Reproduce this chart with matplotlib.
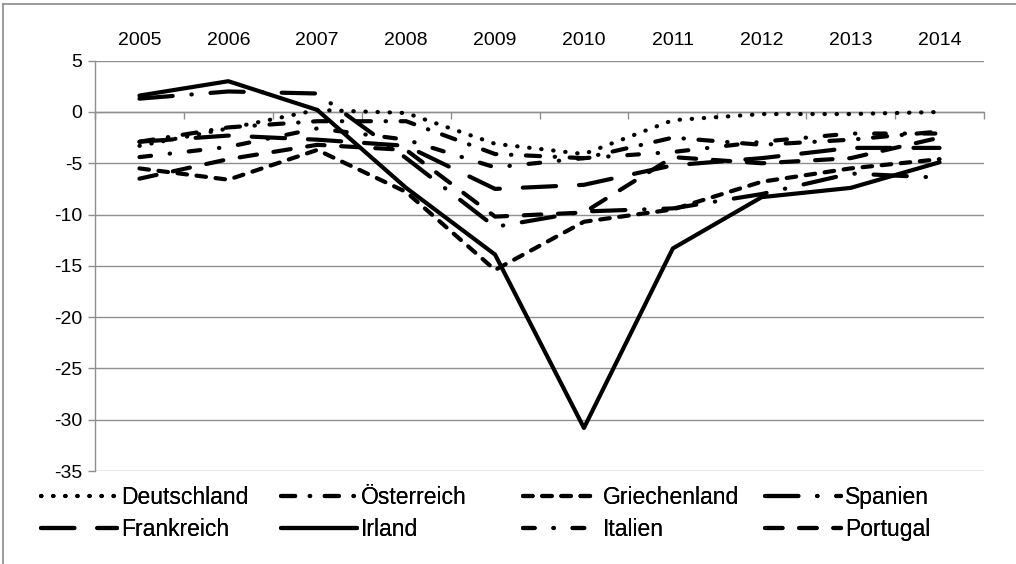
import matplotlib
matplotlib.use("Agg")
import matplotlib.pyplot as plt
from matplotlib.lines import Line2D
from matplotlib.ticker import FixedLocator

plt.rcParams['font.family'] = ['Liberation Sans', 'DejaVu Sans']
plt.rcParams['axes.unicode_minus'] = False

years = ["2005", "2006", "2007", "2008", "2009", "2010", "2011", "2012", "2013", "2014"]

deutschland = [-3.3, -1.6, 0.2, -0.1, -3.1, -4.1, -0.8, -0.2, -0.2, 0.0]
oesterreich = [-2.9, -1.5, -0.9, -0.9, -4.1, -4.5, -2.5, -3.2, -2.7, -1.9]
griechenland = [-5.5, -6.6, -3.7, -7.8, -15.4, -10.7, -9.5, -6.8, -5.5, -4.6]
spanien = [1.3, 2.0, 1.8, -4.5, -11.2, -9.7, -9.4, -8.0, -6.0, -6.4]
frankreich = [-2.9, -2.3, -2.7, -3.3, -7.5, -7.1, -5.2, -4.5, -3.5, -3.5]
irland = [1.6, 3.0, 0.2, -7.4, -13.9, -30.8, -13.3, -8.3, -7.4, -4.9]
italien = [-4.4, -3.4, -1.6, -2.7, -5.4, -4.5, -3.9, -2.9, -2.1, -2.1]
portugal = [-6.5, -4.6, -3.2, -3.7, -10.2, -9.8, -4.4, -5.0, -4.5, -2.5]

series = [
    ("Deutschland", deutschland, (0, (0.1, 2.8))),
    ("Österreich", oesterreich, (0, (3.4, 3.5, 0.1, 3.5))),
    ("Griechenland", griechenland, (0, (2.3, 2.3))),
    ("Spanien", spanien, (0, (8, 4.5, 0.1, 4.5))),
    ("Frankreich", frankreich, (0, (8, 5.5))),
    ("Irland", irland, "-"),
    ("Italien", italien, (0, (2.8, 4.5, 0.1, 4.5))),
    ("Portugal", portugal, (0, (4.2, 4.0))),
]

W, H = 1016, 564
fig = plt.figure(figsize=(W / 100, H / 100), dpi=100)
ax = fig.add_axes([95 / W, (H - 471) / H, (984 - 95) / W, (471 - 60.7) / H])

grid_c = "#8f8f8f"
x = list(range(len(years)))
handles = []
for name, vals, ls in series:
    ln, = ax.plot(x, vals, color="black", lw=3.0, linestyle=ls,
                  dash_capstyle="round", solid_capstyle="round",
                  dash_joinstyle="round", solid_joinstyle="round",
                  label=name, zorder=3)
    handles.append(ln)

ax.set_xlim(-0.5, len(years) - 0.5)
ax.set_ylim(-35, 5)
ax.set_yticks(range(-35, 6, 5))
ax.yaxis.grid(True, color=grid_c, lw=1.0)
ax.set_axisbelow(True)

for s in ["top", "right"]:
    ax.spines[s].set_visible(False)
ax.spines["left"].set_color(grid_c)
ax.spines["left"].set_linewidth(1.0)
ax.spines["bottom"].set_position(("data", 0))
ax.spines["bottom"].set_color(grid_c)
ax.spines["bottom"].set_linewidth(1.0)

ax.set_xticks(x)
ax.set_xticklabels(years)
ax.xaxis.set_minor_locator(FixedLocator([i - 0.5 for i in range(len(years) + 1)]))
ax.tick_params(axis="x", which="major", bottom=False, top=False,
               labelbottom=False, labeltop=True, labelsize=14, pad=5)
ax.tick_params(axis="x", which="minor", bottom=True, top=False,
               length=5, width=1.0, color=grid_c, direction="out")
ax.tick_params(axis="y", which="major", length=5, width=1.0, color=grid_c,
               direction="out", labelsize=14, pad=4)

# legend: four columns, two rows each
col_x = [41, 281, 523, 765]
for c in range(4):
    hs = [handles[c], handles[c + 4]]
    leg = fig.legend(handles=hs, labels=[h.get_label() for h in hs],
                     loc="upper left",
                     bbox_to_anchor=(col_x[c] / W, (H - 486) / H),
                     frameon=False, fontsize=16.5, handlelength=3.3,
                     handletextpad=0.18, labelspacing=0.4,
                     borderpad=0, borderaxespad=0)
    fig.add_artist(leg)

# chart-area border (left and top visible)
fig.add_artist(Line2D([3 / W, 3 / W], [0, (H - 4) / H], transform=fig.transFigure,
                      color="#8a8a8a", lw=1.2))
fig.add_artist(Line2D([3 / W, 1], [(H - 4) / H, (H - 4) / H], transform=fig.transFigure,
                      color="#8a8a8a", lw=1.2))

fig.savefig("out.png", dpi=100)
